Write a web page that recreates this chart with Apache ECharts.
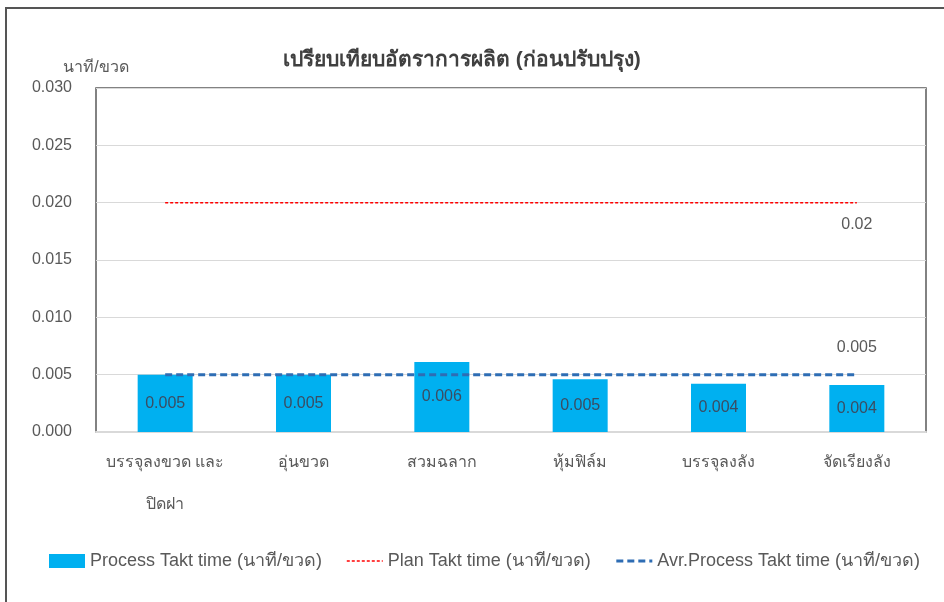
<!DOCTYPE html>
<html>
<head>
<meta charset="utf-8">
<script src="https://cdn.jsdelivr.net/npm/echarts@6/dist/echarts.min.js"></script>
<style>
  html, body { margin: 0; padding: 0; background: #fff; }
  #chart { width: 944px; height: 602px; }
</style>
</head>
<body>
<div id="chart"></div>
<script>
// ข้อมูลกราฟ
const categories = ['บรรจุลงขวด และ\nปิดฝา', 'อุ่นขวด', 'สวมฉลาก', 'หุ้มฟิล์ม', 'บรรจุลงลัง', 'จัดเรียงลัง'];
const processTakt = [0.005, 0.005, 0.0061, 0.0046, 0.0042, 0.0041];
const planTakt = [0.02, 0.02, 0.02, 0.02, 0.02, 0.02];
const avgTakt = [0.005, 0.005, 0.005, 0.005, 0.005, 0.005];
const yTicks = ['0.000', '0.005', '0.010', '0.015', '0.020', '0.025', '0.030'];
const lineLabels = ['0.02', '0.005'];

const seriesNames = ['Process Takt time (นาที/ขวด)', 'Plan Takt time (นาที/ขวด)', 'Avr.Process Takt time (นาที/ขวด)'];
const font = '"Liberation Sans", Arial, sans-serif';

// ป้ายค่าที่จุดสุดท้ายของเส้น
function lastMark(arr, text, offsetY) {
  let i = arr.length - 1;
  return {
    symbol: 'circle',
    symbolSize: 2,
    silent: true,
    itemStyle: { color: 'rgba(0,0,0,0)' },
    label: { show: true, position: 'inside', formatter: text, color: '#595959', fontSize: 16, fontFamily: font, offset: [0, offsetY] },
    data: [{ coord: [categories[i], arr[i]] }]
  };
}

var myChart = echarts.init(document.getElementById('chart'));
let option = {
  backgroundColor: '#fff',
  animation: false,
  title: {
    text: 'เปรียบเทียบอัตราการผลิต (ก่อนปรับปรุง)',
    left: 278,
    top: 45,
    textStyle: { fontSize: 21, fontWeight: 'bold', color: '#404040', fontFamily: font }
  },
  graphic: [{
    type: 'rect',
    shape: { x: 6, y: 8, width: 980, height: 700 },
    style: { fill: null, stroke: '#555', lineWidth: 2 },
    silent: true
  }],
  legend: {
    left: 44,
    top: 547,
    itemWidth: 36,
    itemHeight: 14,
    itemGap: 24,
    textStyle: { color: '#595959', fontSize: 18, fontFamily: font },
    data: [
      { name: seriesNames[0], icon: 'rect' },
      { name: seriesNames[1], itemStyle: { opacity: 0 }, lineStyle: { width: 1.5 } },
      { name: seriesNames[2], itemStyle: { opacity: 0 }, lineStyle: { width: 3 } }
    ]
  },
  grid: {
    left: 96,
    right: 18,
    top: 88,
    bottom: 170,
    show: true,
    borderColor: '#595959',
    borderWidth: 1.5
  },
  xAxis: {
    type: 'category',
    data: categories,
    axisTick: { show: false },
    axisLine: { lineStyle: { color: '#d9d9d9', width: 2 } },
    axisLabel: {
      color: '#595959',
      fontSize: 16,
      fontFamily: font,
      margin: 10,
      lineHeight: 42,
      interval: 0
    }
  },
  yAxis: {
    type: 'value',
    min: 0,
    max: 0.03,
    interval: 0.005,
    name: 'นาที/ขวด',
    nameLocation: 'end',
    nameGap: 12,
    nameTextStyle: { color: '#595959', fontSize: 16, fontFamily: font },
    axisLine: { show: false },
    axisTick: { show: false },
    axisLabel: {
      color: '#595959',
      fontSize: 16,
      fontFamily: font,
      margin: 24,
      formatter: (v) => yTicks[Math.round(v / 0.005)]
    },
    splitLine: { lineStyle: { color: '#d9d9d9', width: 1 } }
  },
  series: [
    {
      name: seriesNames[0],
      type: 'bar',
      data: processTakt,
      barWidth: 55,
      itemStyle: { color: '#00B0F0' },
      label: {
        show: true,
        position: 'inside',
        color: '#3a4d63',
        fontSize: 16,
        fontFamily: font,
        formatter: (p) => p.value.toFixed(3)
      },
      z: 2
    },
    {
      name: seriesNames[1],
      type: 'line',
      data: planTakt,
      symbol: 'none',
      lineStyle: { color: '#FF0000', width: 1.5, type: [3, 2] },
      itemStyle: { color: '#FF0000' },
      markPoint: lastMark(planTakt, lineLabels[0], 22),
      z: 3
    },
    {
      name: seriesNames[2],
      type: 'line',
      data: avgTakt,
      symbol: 'none',
      lineStyle: { color: '#2E6DB4', width: 3, type: [7, 4] },
      itemStyle: { color: '#2E6DB4' },
      markPoint: lastMark(avgTakt, lineLabels[1], -27),
      z: 3
    }
  ]
};
myChart.setOption(option);
</script>
</body>
</html>
